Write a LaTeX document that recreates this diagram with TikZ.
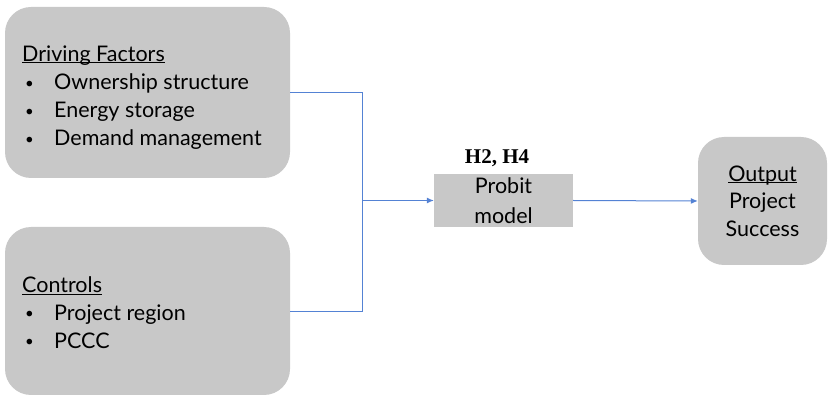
\documentclass[tikz,border=0pt]{standalone}
\usepackage{fontspec}
\usetikzlibrary{arrows.meta}
\setmainfont{Lato}
\newfontfamily\hypfont{Liberation Serif}

\definecolor{boxgray}{RGB}{200,200,200}
\definecolor{linkblue}{RGB}{84,130,212}

\newcommand{\undl}[1]{\setbox0\hbox{#1}\rlap{\rule[-1.8pt]{\wd0}{1.3pt}}\box0}
\newcommand{\itm}[1]{\hspace*{3pt}\makebox[29pt][l]{\raisebox{1.5pt}{\fontsize{15}{15}\selectfont\textbullet}}#1}

\begin{document}
\begin{tikzpicture}[x=1pt, y=-1pt,
    roundbox/.style={fill=boxgray, draw=none, rounded corners=26pt, inner sep=0pt},
    modelbox/.style={fill=boxgray, draw=none, inner sep=0pt, align=center,
                     font=\fontsize{21.5}{30}\selectfont},
    listtext/.style={align=left, inner sep=0pt, font=\fontsize{21.5}{28.2}\selectfont},
    flow/.style={draw=linkblue, line width=1pt, >={Latex[length=7pt,width=6pt]}}]
    \useasboundingbox (0,0) rectangle (835,395);
    % Driving factors
    \node[roundbox, minimum width=285pt, minimum height=171pt] (dfact) at (147.5,92.5) {};
    \node[listtext, anchor=base west] (dlist) at (22,146)
        {\undl{Driving Factors}\\ \itm{Ownership structure}\\ \itm{Energy storage}\\ \itm{Demand management}};
    % Controls
    \node[roundbox, minimum width=285pt, minimum height=168pt] (ctrl) at (147.5,311) {};
    \node[listtext, anchor=base west, font=\fontsize{21.5}{27.5}\selectfont] (clist) at (22,348)
        {\undl{Controls}\\ \itm{Project region}\\ \itm{PCCC}};
    % Probit model
    \node[modelbox, minimum width=139pt, minimum height=53pt] (probit) at (503.5,200.5) {Probit\\ model};
    \node[anchor=base, inner sep=0pt, font=\hypfont\bfseries\fontsize{21}{24}\selectfont] (hyp) at (497,164) {H2, H4};
    % Output
    \node[roundbox, align=center, font=\fontsize{21.5}{27.5}\selectfont,
          minimum width=129pt, minimum height=128pt] (output) at (762.5,201)
        {\undl{Output}\\ Project\\ Success};
    % links
    \coordinate (jn) at (362,200.5);
    \draw[flow] (dfact.east) -| (jn);
    \draw[flow] (ctrl.east) -| (jn);
    \draw[flow, ->] (jn) -- (probit.west);
    \draw[flow, ->] (probit.east) -- (output.west);
\end{tikzpicture}
\end{document}
